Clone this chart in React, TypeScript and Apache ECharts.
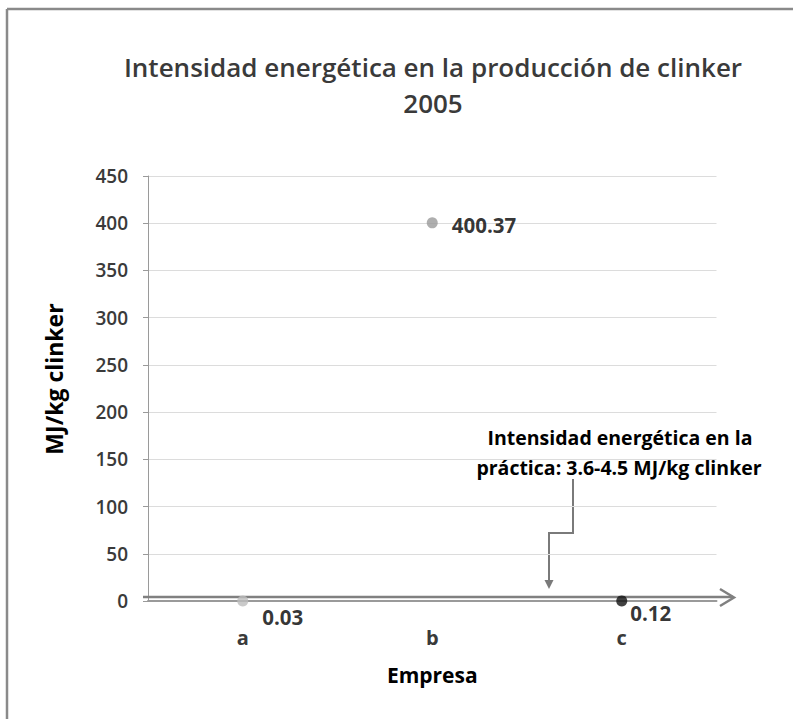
import React, { useEffect, useRef } from "react";
import * as echarts from "echarts";

const categories = ["a", "b", "c"];
const values = [0.03, 400.37, 0.12];
const valueLabels = ["0.03", "400.37", "0.12"];
const pointColors = ["#bdbdbd", "#9a9a9a", "#111111"];
const yMin = 0;
const yMax = 450;
const yInterval = 50;
const titleLines = ["Intensidad energética en la producción de clinker", "2005"];
const noteLines = ["Intensidad energética en la", "práctica: 3.6-4.5 MJ/kg clinker"];
const yName = "MJ/kg clinker";
const xName = "Empresa";

const FONT = "'Open Sans', 'Noto Sans', sans-serif";

export default function App() {
  const ref = useRef<HTMLDivElement>(null);
  useEffect(() => {
    document.body.style.margin = "0";
    if (!ref.current) return;
    const chart = echarts.init(ref.current, undefined, { renderer: "svg" });
    const labelCfg = [
      { distance: 14, offset: [0, 16] },
      { distance: 14, offset: [0, 2] },
      { distance: 3, offset: [0, 12] },
    ];
    const data = values.map((v, i) => ({
      value: v,
      itemStyle: { color: pointColors[i] },
      label: {
        show: true,
        formatter: valueLabels[i],
        position: "right",
        distance: labelCfg[i].distance,
        offset: labelCfg[i].offset,
        color: "#000",
        fontWeight: "bold",
        fontSize: 20.5,
        fontFamily: FONT,
      },
    }));
    chart.setOption({
      animation: false,
      backgroundColor: "#fff",
      title: {
        text: titleLines.join("\n"),
        left: 428,
        top: 44,
        textAlign: "center",
        textStyle: {
          fontFamily: FONT,
          fontSize: 26,
          lineHeight: 36,
          fontWeight: 600,
          color: "#3a3a3a",
        },
      },
      grid: { left: 148, right: 76.5, top: 176, bottom: 118, containLabel: false },
      xAxis: {
        type: "category",
        data: categories,
        boundaryGap: true,
        name: xName,
        nameLocation: "middle",
        nameGap: 63,
        nameTextStyle: { fontFamily: FONT, fontSize: 21, fontWeight: "bold", color: "#000" },
        axisLine: { lineStyle: { color: "#9a9a9a", width: 2 } },
        axisTick: { show: false },
        axisLabel: {
          margin: 26,
          fontFamily: FONT,
          fontSize: 20,
          fontWeight: "bold",
          color: "#3a3a3a",
        },
      },
      yAxis: {
        type: "value",
        min: yMin,
        max: yMax,
        interval: yInterval,
        axisLine: { show: true, lineStyle: { color: "#9a9a9a", width: 1 } },
        axisTick: { show: true, length: 5, lineStyle: { color: "#9a9a9a" } },
        axisLabel: {
          margin: 20,
          fontFamily: FONT,
          fontSize: 19,
          fontWeight: 600,
          color: "#3a3a3a",
        },
        splitLine: { lineStyle: { color: "#dcdcdc", width: 1 } },
      },
      series: [
        {
          type: "scatter",
          symbol: "circle",
          symbolSize: 11,
          data,
          z: 5,
        },
      ],
      graphic: [
        // outer frame (top and left edges visible)
        { type: "line", shape: { x1: 7, y1: 9, x2: 793, y2: 9 }, style: { stroke: "#8a8a8a", lineWidth: 2.5 } },
        { type: "line", shape: { x1: 7, y1: 9, x2: 7, y2: 719 }, style: { stroke: "#8a8a8a", lineWidth: 2.5 } },
        // y axis title
        {
          type: "text",
          x: 54,
          y: 379,
          rotation: Math.PI / 2,
          style: {
            text: yName,
            fontFamily: FONT,
            fontSize: 23,
            fontWeight: "bold",
            fill: "#000",
            align: "center",
            verticalAlign: "middle",
          },
        },
        // horizontal arrow along the axis
        { type: "line", shape: { x1: 143, y1: 597, x2: 733, y2: 597 }, style: { stroke: "#808080", lineWidth: 2.5 }, z: 3 },
        {
          type: "polyline",
          shape: { points: [[720, 589], [734, 597.5], [720, 606]] },
          style: { stroke: "#808080", lineWidth: 2.5, fill: null },
          z: 3,
        },
        // elbow connector
        {
          type: "polyline",
          shape: { points: [[573, 479], [573, 533], [549, 533], [549, 582]] },
          style: { stroke: "#7a7a7a", lineWidth: 2, fill: null },
        },
        {
          type: "polygon",
          shape: { points: [[544.5, 580], [553.5, 580], [549, 589]] },
          style: { fill: "#7a7a7a" },
        },
        {
          type: "text",
          x: 620,
          y: 437,
          style: {
            text: noteLines[0],
            fontFamily: FONT,
            fontSize: 19.5,
            fontWeight: "bold",
            fill: "#000",
            align: "center",
            verticalAlign: "middle",
          },
        },
        {
          type: "text",
          x: 619,
          y: 467,
          style: {
            text: noteLines[1],
            fontFamily: FONT,
            fontSize: 19.5,
            fontWeight: "bold",
            fill: "#000",
            align: "center",
            verticalAlign: "middle",
          },
        },
      ],
    });
    return () => chart.dispose();
  }, []);
  return <div ref={ref} style={{ width: 793, height: 719 }} />;
}
